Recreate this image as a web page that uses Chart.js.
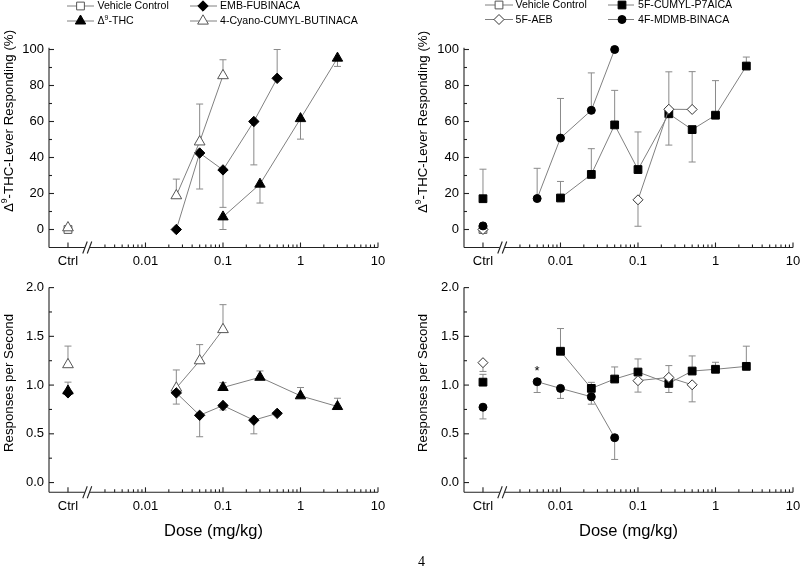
<!DOCTYPE html>
<html>
<head>
<meta charset="utf-8">
<script src="https://cdn.jsdelivr.net/npm/chart.js@4.4.1/dist/chart.umd.min.js"></script>
<style>
  html, body { margin: 0; padding: 0; background: #fff; }
  body { width: 800px; height: 577px; position: relative; overflow: hidden; }
  .panel { position: absolute; }
  #pageNum { position: absolute; left: 418px; top: 554px; font-family: "Liberation Serif", serif; font-size: 14px; color: #000; }
</style>
</head>
<body>
<div class="panel" style="left:0;top:0;width:400px;height:270px"><canvas id="pctLeft"></canvas></div>
<div class="panel" style="left:400px;top:0;width:400px;height:270px"><canvas id="pctRight"></canvas></div>
<div class="panel" style="left:0;top:270px;width:400px;height:290px"><canvas id="rateLeft"></canvas></div>
<div class="panel" style="left:400px;top:270px;width:400px;height:290px"><canvas id="rateRight"></canvas></div>
<div id="pageNum">4</div>
<script>
const F = '"Liberation Sans", Arial, sans-serif';
Chart.defaults.font.family = F;
Chart.defaults.color = '#000';
Chart.defaults.animation = false;

// x axis (log, with a "Ctrl" slot left of the break)
const ctrlDose = 0.001;
const breakDose = 0.0018;
const xTickVals = [0.001, 0.01, 0.1, 1, 10];
const xTickLabels = ['Ctrl', '0.01', '0.1', '1', '10'];
const xMinorVals = [0.003, 0.004, 0.005, 0.006, 0.007, 0.008, 0.009,
  0.02, 0.03, 0.04, 0.05, 0.06, 0.07, 0.08, 0.09,
  0.2, 0.3, 0.4, 0.5, 0.6, 0.7, 0.8, 0.9,
  2, 3, 4, 5, 6, 7, 8, 9];

const pctTicks = [0, 20, 40, 60, 80, 100];
const pctTickLabels = ['0', '20', '40', '60', '80', '100'];
const pctMinor = [10, 30, 50, 70, 90];
const rateTicks = [0, 0.5, 1, 1.5, 2];
const rateTickLabels = ['0.0', '0.5', '1.0', '1.5', '2.0'];
const rateMinor = [0.25, 0.75, 1.25, 1.75];

// left panels
const vehiclePctLeft = 0;

const embDoses = [0.025, 0.05, 0.1, 0.25, 0.5];
const embPct = [0, 42.5, 33.1, 60, 84];
const embPctErr = [0, -20, -20.8, -24.1, 16];
const embRateCtrl = 0.92;
const embRateCtrlErr = 0.11;
const embRate = [0.92, 0.69, 0.79, 0.64, 0.71];
const embRateErr = [-0.115, -0.22, -0.045, -0.14, 0];

const thcDoses = [0.1, 0.3, 1, 3];
const thcPct = [7, 25.2, 61.6, 95.2];
const thcPctErr = [-7, -10.5, -11.4, -4.6];
const thcRateCtrl = 0.94;
const thcRate = [0.975, 1.08, 0.89, 0.78];
const thcRateErr = [0.05, 0.065, 0.085, 0.085];

const cyanoDoses = [0.025, 0.05, 0.1];
const cyanoPctCtrl = 1;
const cyanoPct = [18.8, 48.7, 85.5];
const cyanoPctErr = [9.2, 21, 8.8];
const cyanoRateCtrl = 1.21;
const cyanoRateCtrlErr = 0.19;
const cyanoRate = [0.97, 1.25, 1.57];
const cyanoRateErr = [0.185, 0.165, 0.255];

// right panels
const vehiclePctRight = 0;

const cumylDoses = [0.01, 0.025, 0.05, 0.1, 0.25, 0.5, 1, 2.5];
const cumylPctCtrl = 17.1;
const cumylPctCtrlErr = 16.4;
const cumylPct = [17.5, 30.6, 58.1, 33.3, 64.3, 55.5, 63.5, 90.8];
const cumylPctErr = [9.2, 14.3, 19.2, 20.9, -17.4, -18, 19.2, 5];
const cumylRateCtrl = 1.03;
const cumylRateCtrlErr = 0.08;
const cumylRate = [1.347, 0.966, 1.062, 1.134, 1.017, 1.144, 1.162, 1.192];
const cumylRateErr = [0.233, 0.062, 0.124, 0.134, -0.093, 0.155, 0.072, 0.207];

const mdmbDoses = [0.005, 0.01, 0.025, 0.05];
const mdmbPctCtrl = 2;
const mdmbPct = [17.2, 50.8, 66.2, 100];
const mdmbPctErr = [16.8, 22, 20.8, 0];
const mdmbRateCtrl = 0.773;
const mdmbRateCtrlErr = -0.12;
const mdmbRate = [1.034, 0.966, 0.88, 0.46];
const mdmbRateErr = [-0.11, -0.103, -0.076, -0.223];
const mdmbStarIdx = [0];

const aebDoses = [0.1, 0.25, 0.5];
const aebPctCtrl = 0;
const aebPct = [16.5, 66.8, 66.7];
const aebPctErr = [-14.7, 20.8, 21];
const aebRateCtrl = 1.23;
const aebRateCtrlErr = -0.09;
const aebRate = [1.045, 1.079, 1.003];
const aebRateErr = [-0.117, 0.121, -0.175];

const styles = {
  vehicle: { pointStyle: 'rect', radius: 5.5, fill: '#fff', stroke: '#555' },
  emb: { pointStyle: 'rectRot', radius: 5.2, fill: '#000', stroke: '#000' },
  thc: { pointStyle: 'triangle', radius: 6, fill: '#000', stroke: '#000' },
  cyano: { pointStyle: 'triangle', radius: 6.2, fill: '#fff', stroke: '#555' },
  cumyl: { pointStyle: 'rect', radius: 5.5, fill: '#000', stroke: '#000' },
  aeb: { pointStyle: 'rectRot', radius: 5, fill: '#fff', stroke: '#333' },
  mdmb: { pointStyle: 'circle', radius: 4, fill: '#000', stroke: '#000' }
};

function series(doses, vals, errs, ctrl, ctrlErr) {
  const data = [], e = [];
  if (ctrl !== null) {
    data.push({ x: ctrlDose, y: ctrl }); e.push(ctrlErr || 0);
    data.push({ x: breakDose, y: null }); e.push(0);
  }
  doses.forEach((d, i) => { data.push({ x: d, y: vals[i] }); e.push(errs[i]); });
  return { data, errs: e };
}

function ds(label, st, s) {
  return {
    label, data: s.data, errs: s.errs, showLine: true, spanGaps: false,
    borderColor: '#808080', borderWidth: 1,
    pointStyle: st.pointStyle, pointRadius: st.radius, pointHoverRadius: st.radius,
    pointBackgroundColor: st.fill, pointBorderColor: st.stroke, pointBorderWidth: 1,
    clip: false
  };
}

function richText(ctx, str, x, y, size) {
  const parts = [];
  for (let i = 0; i < str.length; i++) {
    if (str[i] === '^') { parts.push({ t: str[i + 1], sup: true }); i++; }
    else if (parts.length && !parts[parts.length - 1].sup) parts[parts.length - 1].t += str[i];
    else parts.push({ t: str[i], sup: false });
  }
  const font = p => (p.sup ? size * 0.65 : size) + 'px ' + F;
  let w = 0;
  parts.forEach(p => { ctx.font = font(p); p.w = ctx.measureText(p.t).width; w += p.w; });
  ctx.textBaseline = 'middle';
  ctx.textAlign = 'left';
  let cx = x;
  parts.forEach(p => { ctx.font = font(p); ctx.fillText(p.t, cx, p.sup ? y - size * 0.35 : y); cx += p.w; });
  return w;
}

function line(ctx, x1, y1, x2, y2) {
  ctx.beginPath(); ctx.moveTo(x1, y1); ctx.lineTo(x2, y2); ctx.stroke();
}

function drawMarker(ctx, st, x, y) {
  ctx.fillStyle = st.fill;
  ctx.strokeStyle = st.stroke;
  ctx.lineWidth = 1;
  Chart.helpers.drawPoint(ctx, { pointStyle: st.pointStyle, radius: st.radius, rotation: 0, borderWidth: 1 }, x, y);
}

// axes, ticks, break marks, error bars, titles, legend
function decor(cfg) {
  return {
    id: 'decor',
    beforeDatasetsDraw(chart) {
      const { ctx, chartArea: a, scales: { x, y } } = chart;
      ctx.save();
      ctx.strokeStyle = '#222';
      ctx.lineWidth = 1.1;
      // y axis
      line(ctx, a.left, a.top, a.left, a.bottom);
      cfg.yTicks.forEach(v => { const p = y.getPixelForValue(v); line(ctx, a.left, p, a.left + 5, p); });
      cfg.yMinor.forEach(v => { const p = y.getPixelForValue(v); line(ctx, a.left, p, a.left + 3, p); });
      // x axis with break
      const bx = x.getPixelForValue(breakDose);
      line(ctx, a.left, a.bottom, bx - 3, a.bottom);
      line(ctx, bx + 2, a.bottom, a.right, a.bottom);
      line(ctx, bx - 5, a.bottom + 6, bx - 0.5, a.bottom - 6);
      line(ctx, bx - 0.5, a.bottom + 6, bx + 4, a.bottom - 6);
      xTickVals.forEach(v => { const p = x.getPixelForValue(v); line(ctx, p, a.bottom, p, a.bottom - 5); });
      xMinorVals.forEach(v => { const p = x.getPixelForValue(v); line(ctx, p, a.bottom, p, a.bottom - 3); });
      // error bars
      ctx.strokeStyle = '#8a8a8a';
      ctx.lineWidth = 1;
      chart.data.datasets.forEach((d, i) => {
        const meta = chart.getDatasetMeta(i);
        d.errs.forEach((e, j) => {
          const pt = d.data[j];
          if (!e || pt.y === null) return;
          const px = meta.data[j].x, py = meta.data[j].y;
          const ey = y.getPixelForValue(pt.y + e);
          line(ctx, px, py, px, ey);
          line(ctx, px - 3.5, ey, px + 3.5, ey);
        });
      });
      ctx.restore();
    },
    afterDraw(chart) {
      const { ctx, chartArea: a, scales: { x, y } } = chart;
      ctx.save();
      ctx.fillStyle = '#000';
      // y title
      ctx.save();
      ctx.translate(cfg.yTitleX, cfg.yTitleY);
      ctx.rotate(-Math.PI / 2);
      ctx.globalAlpha = 0;
      const w = richText(ctx, cfg.yTitle, 0, 0, 13.3);
      ctx.globalAlpha = 1;
      richText(ctx, cfg.yTitle, -w / 2, 0, 13.3);
      ctx.restore();
      // x title
      if (cfg.xTitle) {
        ctx.font = '16.5px ' + F;
        ctx.textAlign = 'center';
        ctx.textBaseline = 'middle';
        ctx.fillText(cfg.xTitle, (a.left + a.right) / 2, cfg.xTitleY);
      }
      // significance marks
      (cfg.stars || []).forEach(s => {
        ctx.font = '13px ' + F;
        ctx.textAlign = 'center';
        ctx.textBaseline = 'middle';
        ctx.fillText('*', x.getPixelForValue(s.x), y.getPixelForValue(s.y) - 10);
      });
      // legend
      (cfg.legend || []).forEach(it => {
        ctx.strokeStyle = '#808080';
        ctx.lineWidth = 1;
        line(ctx, it.x0, it.y, it.x1, it.y);
        drawMarker(ctx, it.st, it.mx, it.y);
        ctx.fillStyle = '#000';
        richText(ctx, it.label, it.tx, it.y + 0.5, 10.6);
      });
      ctx.restore();
    }
  };
}

function makeChart(id, datasets, o) {
  const el = document.getElementById(id);
  return new Chart(el, {
    type: 'scatter',
    data: { datasets },
    options: {
      responsive: true,
      maintainAspectRatio: false,
      events: [],
      layout: { padding: { top: o.top, right: o.W - o.right, left: 0, bottom: 0 } },
      plugins: { legend: { display: false }, tooltip: { enabled: false } },
      scales: {
        x: {
          type: 'logarithmic',
          min: o.xMin, max: 10,
          grid: { display: false, drawTicks: false },
          border: { display: false },
          afterBuildTicks: s => { s.ticks = xTickVals.map(v => ({ value: v })); },
          afterFit: s => { s.height = o.H - o.bottom; s.paddingLeft = 0; s.paddingRight = 0; },
          ticks: {
            autoSkip: false, maxRotation: 0, minRotation: 0, padding: 6,
            font: { size: 13 },
            callback: (v, i) => xTickLabels[i]
          }
        },
        y: {
          min: o.yMin, max: o.yMax,
          grid: { display: false, drawTicks: false },
          border: { display: false },
          afterBuildTicks: s => { s.ticks = o.yTicks.map(v => ({ value: v })); },
          afterFit: s => { s.width = o.left; },
          ticks: { padding: 5, font: { size: 13 }, callback: (v, i) => o.yLabels[i] }
        }
      }
    },
    plugins: [decor(o)]
  });
}

const xMinLog = 0.000569;

makeChart('pctLeft', [
  ds('4-Cyano-CUMYL-BUTINACA', styles.cyano, series(cyanoDoses, cyanoPct, cyanoPctErr, cyanoPctCtrl, 0)),
  ds('Vehicle Control', styles.vehicle, series([], [], [], vehiclePctLeft, 0)),
  ds('EMB-FUBINACA', styles.emb, series(embDoses, embPct, embPctErr, null)),
  ds('Δ9-THC', styles.thc, series(thcDoses, thcPct, thcPctErr, null))
], {
  W: 400, H: 270, left: 49, right: 378, top: 47.7, bottom: 247.5,
  xMin: xMinLog, yMin: -10, yMax: 101, yTicks: pctTicks, yLabels: pctTickLabels, yMinor: pctMinor,
  yTitle: 'Δ^9-THC-Lever Responding (%)', yTitleX: 9.5, yTitleY: 121,
  legend: [
    { label: 'Vehicle Control', st: styles.vehicle, x0: 67, x1: 94, mx: 80.5, tx: 97.5, y: 6 },
    { label: 'EMB-FUBINACA', st: styles.emb, x0: 190, x1: 217, mx: 203, tx: 220, y: 6 },
    { label: 'Δ^9-THC', st: styles.thc, x0: 67, x1: 94, mx: 80.5, tx: 97.5, y: 21 },
    { label: '4-Cyano-CUMYL-BUTINACA', st: styles.cyano, x0: 190, x1: 217, mx: 203, tx: 220, y: 21 }
  ]
});

makeChart('pctRight', [
  ds('4F-MDMB-BINACA', styles.mdmb, series(mdmbDoses, mdmbPct, mdmbPctErr, mdmbPctCtrl, 0)),
  ds('5F-AEB', styles.aeb, series(aebDoses, aebPct, aebPctErr, aebPctCtrl, 0)),
  ds('Vehicle Control', styles.vehicle, series([], [], [], vehiclePctRight, 0)),
  ds('5F-CUMYL-P7AICA', styles.cumyl, series(cumylDoses, cumylPct, cumylPctErr, cumylPctCtrl, cumylPctCtrlErr))
], {
  W: 400, H: 270, left: 64, right: 393, top: 47.7, bottom: 247.5,
  xMin: xMinLog, yMin: -10, yMax: 101, yTicks: pctTicks, yLabels: pctTickLabels, yMinor: pctMinor,
  yTitle: 'Δ^9-THC-Lever Responding (%)', yTitleX: 23.5, yTitleY: 122,
  legend: [
    { label: 'Vehicle Control', st: styles.vehicle, x0: 85, x1: 113, mx: 99, tx: 115.5, y: 5 },
    { label: '5F-CUMYL-P7AICA', st: styles.cumyl, x0: 208, x1: 234, mx: 222, tx: 238, y: 5 },
    { label: '5F-AEB', st: styles.aeb, x0: 85, x1: 113, mx: 99, tx: 115.5, y: 19.5 },
    { label: '4F-MDMB-BINACA', st: styles.mdmb, x0: 208, x1: 234, mx: 222, tx: 238, y: 19.5 }
  ]
});

makeChart('rateLeft', [
  ds('EMB-FUBINACA', styles.emb, series(embDoses, embRate, embRateErr, embRateCtrl, embRateCtrlErr)),
  ds('Δ9-THC', styles.thc, series(thcDoses, thcRate, thcRateErr, thcRateCtrl, 0)),
  ds('4-Cyano-CUMYL-BUTINACA', styles.cyano, series(cyanoDoses, cyanoRate, cyanoRateErr, cyanoRateCtrl, cyanoRateCtrlErr))
], {
  W: 400, H: 290, left: 49, right: 378, top: 17.6, bottom: 222.3,
  xMin: xMinLog, yMin: -0.1, yMax: 2.0, yTicks: rateTicks, yLabels: rateTickLabels, yMinor: rateMinor,
  yTitle: 'Responses per Second', yTitleX: 9, yTitleY: 113,
  xTitle: 'Dose (mg/kg)', xTitleY: 261
});

makeChart('rateRight', [
  ds('5F-AEB', styles.aeb, series(aebDoses, aebRate, aebRateErr, aebRateCtrl, aebRateCtrlErr)),
  ds('4F-MDMB-BINACA', styles.mdmb, series(mdmbDoses, mdmbRate, mdmbRateErr, mdmbRateCtrl, mdmbRateCtrlErr)),
  ds('5F-CUMYL-P7AICA', styles.cumyl, series(cumylDoses, cumylRate, cumylRateErr, cumylRateCtrl, cumylRateCtrlErr))
], {
  W: 400, H: 290, left: 64, right: 393, top: 17.6, bottom: 222.3,
  xMin: xMinLog, yMin: -0.1, yMax: 2.0, yTicks: rateTicks, yLabels: rateTickLabels, yMinor: rateMinor,
  yTitle: 'Responses per Second', yTitleX: 23.5, yTitleY: 113,
  xTitle: 'Dose (mg/kg)', xTitleY: 261,
  stars: mdmbStarIdx.map(i => ({ x: mdmbDoses[i], y: mdmbRate[i] }))
});
</script>
</body>
</html>
